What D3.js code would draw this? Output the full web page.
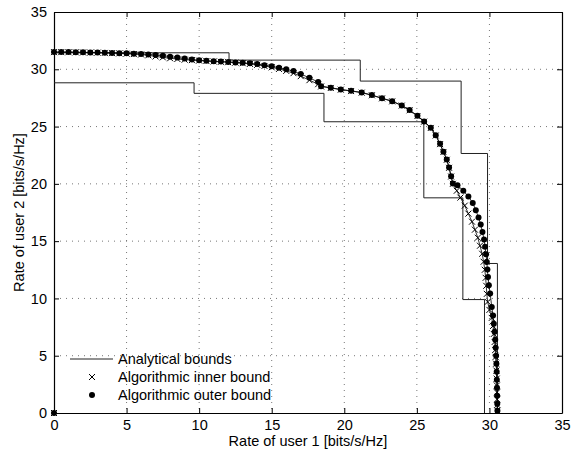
<!DOCTYPE html>
<html>
<head>
<meta charset="utf-8">
<script src="https://cdn.jsdelivr.net/npm/d3@7"></script>
<style>
  body { margin: 0; background: #fff; }
  text { font-family: "Liberation Sans", Arial, sans-serif; }
</style>
</head>
<body>
<script>
// x/y ticks
var xTicks = [0, 5, 10, 15, 20, 25, 30, 35];
var yTicks = [0, 5, 10, 15, 20, 25, 30, 35];

// analytical bounds (staircases)
var outerBoundX = [0, 12.06, 12.06, 21.1, 21.1, 28.05, 28.05, 29.87, 29.87, 30.55, 30.55];
var outerBoundY = [31.44, 31.44, 30.8, 30.8, 28.97, 28.97, 22.65, 22.65, 13.05, 13.05, 0];
var innerBoundX = [0, 9.65, 9.65, 18.6, 18.6, 25.48, 25.48, 28.17, 28.17, 29.66, 29.66];
var innerBoundY = [28.82, 28.82, 27.9, 27.9, 25.42, 25.42, 18.78, 18.78, 9.9, 9.9, 0];

// algorithmic outer bound (dots)
var algOuterX = [0, 0.5, 1.0, 1.5, 2.0, 2.5, 3.0, 3.5, 4.0, 4.5, 5.0, 5.5, 6.0, 6.5, 7.0, 7.5, 8.0, 8.5, 9.0, 9.5,
  10, 10.5, 11, 11.5, 12, 12.5, 13, 13.5, 14, 14.5, 15, 15.5, 16, 16.5, 17, 17.6, 18.2, 18.4,
  19.07, 19.76, 20.47, 21.2, 21.9, 22.6, 23.3, 23.96, 24.5, 25.04, 25.5, 25.96, 26.3, 26.6, 26.83, 27.06,
  27.22, 27.36, 27.48, 27.8, 28.2, 28.55, 28.85, 29.06, 29.25, 29.4, 29.52, 29.63, 29.7, 29.77, 29.82,
  29.86, 29.9, 29.96, 30.05, 30.16, 30.25, 30.3, 30.36, 30.4, 30.43, 30.46, 30.48, 30.5, 30.51, 30.52,
  30.53, 30.54, 30.55];
var algOuterY = [31.5, 31.5, 31.5, 31.49, 31.48, 31.47, 31.46, 31.45, 31.43, 31.41, 31.39, 31.36, 31.34, 31.3, 31.24, 31.18, 31.1, 31.02, 30.94, 30.86,
  30.78, 30.74, 30.7, 30.67, 30.64, 30.6, 30.56, 30.52, 30.46, 30.36, 30.26, 30.14, 30.0, 29.84, 29.58, 29.26, 28.88, 28.53,
  28.39, 28.24, 28.12, 27.98, 27.75, 27.48, 27.22, 26.85, 26.44, 25.94, 25.45, 24.9, 24.25, 23.5, 22.8, 22.13,
  21.43, 20.67, 20.03, 19.88, 19.39, 18.9, 18.34, 17.7, 17.06, 16.45, 15.8, 15.14, 14.5, 13.86, 13.19,
  12.52, 11.88, 11.15, 10.43, 9.26, 8.5, 7.8, 7.1, 6.4, 5.7, 5.0, 4.3, 3.6, 2.9, 2.2,
  1.5, 0.8, 0.2];

// algorithmic inner bound (crosses)
var algInnerX = [0, 0.5, 1.0, 1.5, 2.0, 2.5, 3.0, 3.5, 4.0, 4.5, 5.0, 5.5, 6.0, 6.5, 7.0, 7.5, 8.0, 8.5, 9.0, 9.5,
  10, 10.5, 11, 11.5, 12, 12.5, 13, 13.5, 14, 14.5, 15, 15.5, 16, 16.5, 17, 17.6, 18.2, 18.4,
  19.07, 19.76, 20.47, 21.2, 21.9, 22.6, 23.3, 23.96, 24.5, 25.04, 25.5, 25.96, 26.3, 26.6, 26.83, 27.06,
  27.22, 27.36, 27.48, 27.75, 28.0, 28.3, 28.55, 28.8, 29.0, 29.2, 29.35, 29.5, 29.6, 29.68, 29.74,
  29.78, 29.82, 29.88, 30.0, 30.16, 30.25, 30.3, 30.36, 30.4, 30.43, 30.46, 30.48, 30.5, 30.51, 30.52,
  30.53, 30.54, 30.55];
var algInnerY = [31.5, 31.5, 31.49, 31.48, 31.47, 31.46, 31.45, 31.43, 31.41, 31.39, 31.36, 31.33, 31.29, 31.22, 31.12, 31.04, 30.96, 30.9, 30.84, 30.8,
  30.76, 30.72, 30.68, 30.65, 30.62, 30.58, 30.53, 30.47, 30.39, 30.29, 30.17, 30.03, 29.86, 29.66, 29.4, 29.05, 28.7, 28.5,
  28.37, 28.22, 28.1, 27.96, 27.73, 27.46, 27.2, 26.83, 26.42, 25.92, 25.43, 24.88, 24.22, 23.47, 22.78, 22.1,
  21.4, 20.64, 20.0, 19.4, 18.8, 18.1, 17.4, 16.7, 16.0, 15.3, 14.6, 13.9, 13.2, 12.5, 11.8,
  11.1, 10.4, 9.7, 9.0, 8.3, 7.6, 6.9, 6.2, 5.5, 4.9, 4.3, 3.7, 3.0, 2.4, 1.8,
  1.2, 0.7, 0.2];

var width = 571, height = 453;
var margin = {top: 12, right: 9, bottom: 40, left: 54};
var w = width - margin.left - margin.right,
    h = height - margin.top - margin.bottom;
var fs = 14.5;

var x = d3.scaleLinear().domain([0, 35]).range([0, w]);
var y = d3.scaleLinear().domain([0, 35]).range([h, 0]);

var svg = d3.select("body").append("svg")
  .attr("width", width).attr("height", height);
var g = svg.append("g")
  .attr("transform", "translate(" + margin.left + "," + margin.top + ")");

// grid
g.append("g").selectAll("line").data(xTicks.slice(1, -1)).enter().append("line")
  .attr("x1", function(d) { return x(d); }).attr("x2", function(d) { return x(d); })
  .attr("y1", 0).attr("y2", h)
  .attr("stroke", "#777").attr("stroke-dasharray", "1,5");
g.append("g").selectAll("line").data(yTicks.slice(1, -1)).enter().append("line")
  .attr("y1", function(d) { return y(d); }).attr("y2", function(d) { return y(d); })
  .attr("x1", 0).attr("x2", w)
  .attr("stroke", "#777").attr("stroke-dasharray", "1,5");

// axes, ticks inside like matlab
var tl = 5;
g.append("g").attr("transform", "translate(0," + h + ")")
  .call(d3.axisBottom(x).tickValues(xTicks).tickSizeInner(-tl).tickSizeOuter(0).tickPadding(7));
g.append("g")
  .call(d3.axisLeft(y).tickValues(yTicks).tickSizeInner(-tl).tickSizeOuter(0).tickPadding(7));
g.append("g")
  .call(d3.axisTop(x).tickValues(xTicks).tickSizeInner(-tl).tickSizeOuter(0).tickFormat(""));
g.append("g").attr("transform", "translate(" + w + ",0)")
  .call(d3.axisRight(y).tickValues(yTicks).tickSizeInner(-tl).tickSizeOuter(0).tickFormat(""));
g.selectAll(".domain").attr("stroke", "#000").attr("stroke-width", 1.2);
g.selectAll(".tick line").attr("stroke", "#000");
g.selectAll(".tick text").attr("font-size", fs).attr("fill", "#000")
  .attr("font-family", "Liberation Sans, Arial, sans-serif");

// analytical bounds
var line = d3.line().x(function(d) { return x(d[0]); }).y(function(d) { return y(d[1]); });
function pts(xs, ys) { return xs.map(function(v, i) { return [v, ys[i]]; }); }

[pts(outerBoundX, outerBoundY), pts(innerBoundX, innerBoundY)].forEach(function(p) {
  g.append("path").datum(p).attr("d", line)
    .attr("fill", "none").attr("stroke", "#222").attr("stroke-width", 1);
});

var inner = pts(algInnerX, algInnerY).concat([[0, 0]]);
var outer = pts(algOuterX, algOuterY).concat([[0, 0]]);

// thin lines through the algorithmic points
g.append("path").datum(pts(algInnerX, algInnerY)).attr("d", line)
  .attr("fill", "none").attr("stroke", "#000").attr("stroke-width", 0.8);
g.append("path").datum(pts(algOuterX, algOuterY)).attr("d", line)
  .attr("fill", "none").attr("stroke", "#000").attr("stroke-width", 0.8);

// crosses
var cs = 3;
g.append("g").selectAll("path").data(inner).enter().append("path")
  .attr("d", function(d) {
    var px = x(d[0]), py = y(d[1]);
    return "M" + (px - cs) + "," + (py - cs) + "L" + (px + cs) + "," + (py + cs) +
           "M" + (px - cs) + "," + (py + cs) + "L" + (px + cs) + "," + (py - cs);
  })
  .attr("stroke", "#000").attr("stroke-width", 1);

// dots
g.append("g").selectAll("circle").data(outer).enter().append("circle")
  .attr("cx", function(d) { return x(d[0]); })
  .attr("cy", function(d) { return y(d[1]); })
  .attr("r", 3).attr("fill", "#000");

// axis labels
svg.append("text").attr("x", margin.left + w / 2).attr("y", 446)
  .attr("text-anchor", "middle").attr("font-size", fs)
  .text("Rate of user 1 [bits/s/Hz]");
svg.append("text").attr("transform", "translate(24," + (margin.top + h / 2) + ") rotate(-90)")
  .attr("text-anchor", "middle").attr("font-size", fs)
  .text("Rate of user 2 [bits/s/Hz]");

// legend
var lg = svg.append("g").attr("font-size", fs);
var ly = [359, 377, 395];
var labels = ["Analytical bounds", "Algorithmic inner bound", "Algorithmic outer bound"];
lg.append("line").attr("x1", 70).attr("x2", 113).attr("y1", ly[0]).attr("y2", ly[0])
  .attr("stroke", "#222").attr("stroke-width", 1);
lg.append("path")
  .attr("d", "M" + (92 - cs) + "," + (ly[1] - cs) + "L" + (92 + cs) + "," + (ly[1] + cs) +
             "M" + (92 - cs) + "," + (ly[1] + cs) + "L" + (92 + cs) + "," + (ly[1] - cs))
  .attr("stroke", "#000");
lg.append("circle").attr("cx", 92).attr("cy", ly[2]).attr("r", 3).attr("fill", "#000");
lg.selectAll("text.l").data(labels).enter().append("text").attr("class", "l")
  .attr("x", 118).attr("y", function(d, i) { return ly[i]; })
  .attr("dy", "0.35em").text(function(d) { return d; });
</script>
</body>
</html>
